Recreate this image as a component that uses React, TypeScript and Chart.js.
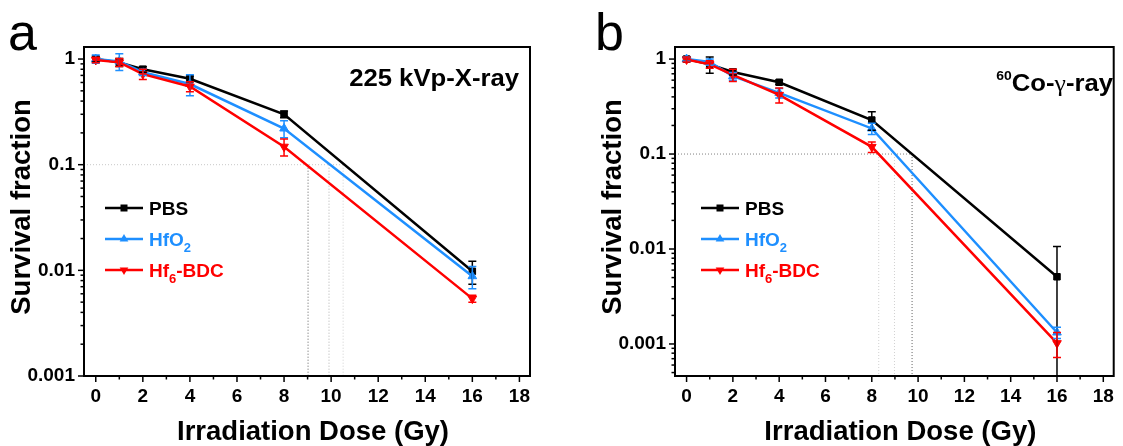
import React, { useEffect, useRef } from 'react';
import { Chart, registerables } from 'chart.js';

Chart.register(...registerables);

const FONT = '"Liberation Sans", Arial, Helvetica, sans-serif';

// ---------- data ----------
const doses = [0, 1, 2, 4, 8, 16];
const xTickValues = [0, 2, 4, 6, 8, 10, 12, 14, 16, 18];
const yTickValues = [0.001, 0.01, 0.1, 1];
const yTickLabels = ['0.001', '0.01', '0.1', '1'];
const seriesNames = ['PBS', 'HfO2', 'Hf6-BDC'];
const seriesColors = ['#000000', '#1E8FFF', '#FF0000'];

// legend labels as [text, isSubscript] segments
const legendLabels: [string, boolean][][] = [
  [['PBS', false]],
  [['HfO', false], ['2', true]],
  [['Hf', false], ['6', true], ['-BDC', false]],
];

// panel a: 225 kVp X-ray
const xrayPBS = [1.0, 0.93, 0.8, 0.65, 0.3, 0.0098];
const xrayPBSErr = [0.06, 0.08, 0.05, 0.04, 0.022, 0.0024];
const xrayHfO2 = [1.0, 0.95, 0.75, 0.58, 0.22, 0.0088];
const xrayHfO2Err = [0.09, 0.17, 0.05, 0.13, 0.04, 0.0021];
const xrayHf6 = [0.98, 0.93, 0.72, 0.55, 0.148, 0.0054];
const xrayHf6Err = [0.06, 0.08, 0.08, 0.06, 0.027, 0.0004];
const xrayDose10 = [10.51, 9.91, 9.02]; // dose at SF = 0.1 (PBS, HfO2, Hf6-BDC)
const xrayLabel: [string, string][] = [['225 kVp-X-ray', 'main']];

// panel b: 60Co gamma-ray
const gammaPBS = [1.0, 0.88, 0.73, 0.57, 0.228, 0.0051];
const gammaPBSErr = [0.06, 0.17, 0.05, 0.03, 0.05, 0.0055];
const gammaHfO2 = [1.0, 0.93, 0.66, 0.44, 0.186, 0.00132];
const gammaHfO2Err = [0.05, 0.07, 0.06, 0.05, 0.025, 0.00018];
const gammaHf6 = [0.99, 0.88, 0.68, 0.42, 0.119, 0.00102];
const gammaHf6Err = [0.06, 0.08, 0.1, 0.075, 0.015, 0.0003];
const gammaDose10 = [9.74, 8.98, 8.3];
const gammaLabel: [string, string][] = [['60', 'sup'], ['Co-', 'main'], ['\u03B3', 'greek'], ['-ray', 'main']];

// ---------- styling ----------
const markerStyles = ['rect', 'triangle', 'triangle'];
const markerRotations = [0, 0, 180];
const markerRadii = [4.6, 5, 5];

type Panel = {
  letter: string;
  letterX: number;
  series: number[][];
  errors: number[][];
  dose10: number[];
  refColors: string[];
  hRefColor: string;
  yMin: number;
  yMax: number;
  canvasW: number;
  areaLeft: number;
  areaRight: number;
  legendX: number;
  annotation: [string, string][];
  annotationRight: number;
  annotationBaseline: number;
};

const xrayPanel: Panel = {
  letter: 'a',
  letterX: 8,
  series: [xrayPBS, xrayHfO2, xrayHf6],
  errors: [xrayPBSErr, xrayHfO2Err, xrayHf6Err],
  dose10: xrayDose10,
  refColors: ['#d0d0d0', '#b0b0b0', '#606060'],
  hRefColor: '#c8c8c8',
  yMin: 0.001,
  yMax: 1.3,
  canvasW: 560,
  areaLeft: 84,
  areaRight: 530,
  legendX: 105,
  annotation: xrayLabel,
  annotationRight: 519,
  annotationBaseline: 86,
};

const gammaPanel: Panel = {
  letter: 'b',
  letterX: 35,
  series: [gammaPBS, gammaHfO2, gammaHf6],
  errors: [gammaPBSErr, gammaHfO2Err, gammaHf6Err],
  dose10: gammaDose10,
  refColors: ['#606060', '#d0d0d0', '#d0d0d0'],
  hRefColor: '#808080',
  yMin: 0.00046,
  yMax: 1.34,
  canvasW: 563,
  areaLeft: 115,
  areaRight: 560,
  legendX: 141,
  annotation: gammaLabel,
  annotationRight: 553,
  annotationBaseline: 91,
};

function drawMarker(ctx: CanvasRenderingContext2D, i: number, x: number, y: number) {
  ctx.fillStyle = seriesColors[i];
  if (i === 0) {
    ctx.fillRect(x - 3.5, y - 3.5, 7, 7);
    return;
  }
  const r = 5;
  const dir = markerRotations[i] === 180 ? -1 : 1;
  ctx.beginPath();
  ctx.moveTo(x, y - dir * r);
  ctx.lineTo(x + r * 0.866, y + dir * r * 0.5);
  ctx.lineTo(x - r * 0.866, y + dir * r * 0.5);
  ctx.closePath();
  ctx.fill();
}

function makePlugin(p: Panel) {
  return {
    id: 'survivalDecor',
    beforeDatasetsDraw(chart: any) {
      const { ctx, chartArea: a, scales } = chart;
      const xs = scales.x;
      const ys = scales.y;
      const y01 = ys.getPixelForValue(0.1);
      ctx.save();
      ctx.lineWidth = 1;
      ctx.setLineDash([1, 2]);
      ctx.strokeStyle = p.hRefColor;
      ctx.beginPath();
      ctx.moveTo(a.left, y01);
      ctx.lineTo(xs.getPixelForValue(Math.max(...p.dose10)), y01);
      ctx.stroke();
      p.dose10.forEach((d, i) => {
        const px = xs.getPixelForValue(d);
        ctx.strokeStyle = p.refColors[i];
        ctx.beginPath();
        ctx.moveTo(px, y01);
        ctx.lineTo(px, a.bottom);
        ctx.stroke();
      });
      ctx.restore();
    },
    afterDatasetsDraw(chart: any) {
      const { ctx, chartArea: a, scales } = chart;
      const xs = scales.x;
      const ys = scales.y;
      ctx.save();
      ctx.beginPath();
      ctx.rect(a.left, a.top, a.right - a.left, a.bottom - a.top);
      ctx.clip();
      ctx.lineWidth = 1.5;
      [0, 1, 2].forEach((i) => {
        ctx.strokeStyle = seriesColors[i];
        p.series[i].forEach((v, j) => {
          const e = p.errors[i][j];
          const px = xs.getPixelForValue(doses[j]);
          const hi = ys.getPixelForValue(v + e);
          const loVal = v - e;
          const lo = loVal > 0 ? ys.getPixelForValue(loVal) : a.bottom + 2;
          ctx.beginPath();
          ctx.moveTo(px, hi);
          ctx.lineTo(px, lo);
          ctx.moveTo(px - 4, hi);
          ctx.lineTo(px + 4, hi);
          if (loVal > 0) {
            ctx.moveTo(px - 4, lo);
            ctx.lineTo(px + 4, lo);
          }
          ctx.stroke();
        });
      });
      ctx.restore();
    },
    afterDraw(chart: any) {
      const { ctx, chartArea: a, scales } = chart;
      const xs = scales.x;
      const ys = scales.y;
      ctx.save();
      // frame
      ctx.strokeStyle = '#000';
      ctx.lineWidth = 2;
      ctx.strokeRect(a.left, a.top, a.right - a.left, a.bottom - a.top);
      // x ticks (major + minor)
      ctx.lineWidth = 1.5;
      for (let v = 0; v <= 18; v++) {
        const px = xs.getPixelForValue(v);
        const len = v % 2 === 0 ? 6 : 3.5;
        ctx.beginPath();
        ctx.moveTo(px, a.bottom);
        ctx.lineTo(px, a.bottom + len);
        ctx.stroke();
      }
      // y ticks (log major + minor)
      for (let e = -4; e <= 0; e++) {
        for (let m = 1; m <= 9; m++) {
          const v = m * Math.pow(10, e);
          if (v < p.yMin || v > p.yMax) continue;
          const py = ys.getPixelForValue(v);
          const len = m === 1 ? 6 : 3.5;
          ctx.beginPath();
          ctx.moveTo(a.left, py);
          ctx.lineTo(a.left - len, py);
          ctx.stroke();
        }
      }
      // axis titles
      ctx.fillStyle = '#000';
      ctx.font = `bold 27.5px ${FONT}`;
      ctx.textAlign = 'center';
      ctx.textBaseline = 'alphabetic';
      ctx.fillText('Irradiation Dose (Gy)', (a.left + a.right) / 2 + 6, 440);
      ctx.save();
      ctx.translate(a.left - 54, 207);
      ctx.rotate(-Math.PI / 2);
      ctx.fillText('Survival fraction', 0, 0);
      ctx.restore();
      // panel letter
      ctx.textAlign = 'left';
      ctx.font = `52px ${FONT}`;
      ctx.fillText(p.letter, p.letterX, 50);
      // annotation (right aligned, slightly wide)
      const sx = 1.07;
      const fontFor = (kind: string) =>
        kind === 'sup' ? `bold 13px ${FONT}` : kind === 'greek' ? `24px "Liberation Serif", "DejaVu Serif", serif` : `bold 24px ${FONT}`;
      let total = 0;
      p.annotation.forEach(([t, k]) => {
        ctx.font = fontFor(k);
        total += ctx.measureText(t).width;
      });
      ctx.save();
      ctx.translate(p.annotationRight - total * sx, p.annotationBaseline);
      ctx.scale(sx, 1);
      let cx = 0;
      p.annotation.forEach(([t, k]) => {
        ctx.font = fontFor(k);
        ctx.fillText(t, cx, k === 'sup' ? -11 : 0);
        cx += ctx.measureText(t).width;
      });
      ctx.restore();
      // legend
      const rows = [208, 239, 270];
      rows.forEach((ry, i) => {
        ctx.strokeStyle = seriesColors[i];
        ctx.lineWidth = 2.5;
        ctx.beginPath();
        ctx.moveTo(p.legendX, ry);
        ctx.lineTo(p.legendX + 38, ry);
        ctx.stroke();
        drawMarker(ctx, i, p.legendX + 19, ry);
        ctx.fillStyle = seriesColors[i];
        let tx = p.legendX + 44;
        legendLabels[i].forEach(([t, sub]) => {
          ctx.font = sub ? `bold 13px ${FONT}` : `bold 19px ${FONT}`;
          ctx.fillText(t, tx, ry + 7 + (sub ? 6 : 0));
          tx += ctx.measureText(t).width;
        });
      });
      ctx.restore();
    },
  };
}

function buildConfig(p: Panel): any {
  const datasets = p.series.map((vals, i) => ({
    label: seriesNames[i],
    data: doses.map((d, j) => ({ x: d, y: vals[j] })),
    borderColor: seriesColors[i],
    backgroundColor: seriesColors[i],
    pointBackgroundColor: seriesColors[i],
    pointBorderColor: seriesColors[i],
    borderWidth: 2.5,
    pointStyle: markerStyles[i],
    pointRotation: markerRotations[i],
    pointRadius: markerRadii[i],
    pointBorderWidth: 1,
    tension: 0,
    order: 2 - i,
  }));
  const tickFont = { family: FONT, size: 19, weight: 'bold' as const };
  return {
    type: 'line',
    data: { datasets },
    options: {
      responsive: false,
      animation: false,
      devicePixelRatio: 1,
      layout: { padding: { top: 47, right: p.canvasW - p.areaRight, left: 0, bottom: 0 } },
      plugins: { legend: { display: false }, tooltip: { enabled: false }, title: { display: false } },
      scales: {
        x: {
          type: 'linear',
          min: -0.5,
          max: 18.45,
          afterBuildTicks: (s: any) => {
            s.ticks = xTickValues.map((v) => ({ value: v }));
          },
          afterFit: (s: any) => {
            s.height = 70;
          },
          grid: { display: false, drawTicks: false },
          border: { display: false },
          ticks: {
            font: tickFont,
            color: '#000',
            padding: 9,
            maxRotation: 0,
            autoSkip: false,
            callback: (v: any) => String(v),
          },
        },
        y: {
          type: 'logarithmic',
          min: p.yMin,
          max: p.yMax,
          afterBuildTicks: (s: any) => {
            s.ticks = yTickValues.map((v) => ({ value: v }));
          },
          afterFit: (s: any) => {
            s.width = p.areaLeft;
          },
          grid: { display: false, drawTicks: false },
          border: { display: false },
          ticks: {
            font: tickFont,
            color: '#000',
            padding: 9,
            autoSkip: false,
            callback: (v: any) => {
              const idx = yTickValues.findIndex((t) => Math.abs(t - v) / t < 1e-6);
              return idx >= 0 ? yTickLabels[idx] : '';
            },
          },
        },
      },
    },
    plugins: [makePlugin(p)],
  };
}

function PanelChart({ panel, left }: { panel: Panel; left: number }) {
  const ref = useRef<HTMLCanvasElement>(null);
  useEffect(() => {
    if (!ref.current) return;
    const chart = new Chart(ref.current, buildConfig(panel));
    return () => chart.destroy();
  }, [panel]);
  return (
    <canvas
      ref={ref}
      width={panel.canvasW}
      height={446}
      style={{ position: 'absolute', left, top: 0, width: panel.canvasW, height: 446 }}
    />
  );
}

export default function App() {
  return (
    <div
      style={{
        position: 'absolute',
        left: 0,
        top: 0,
        width: 1123,
        height: 446,
        background: '#fff',
        overflow: 'hidden',
      }}
    >
      <PanelChart panel={xrayPanel} left={0} />
      <PanelChart panel={gammaPanel} left={560} />
    </div>
  );
}
